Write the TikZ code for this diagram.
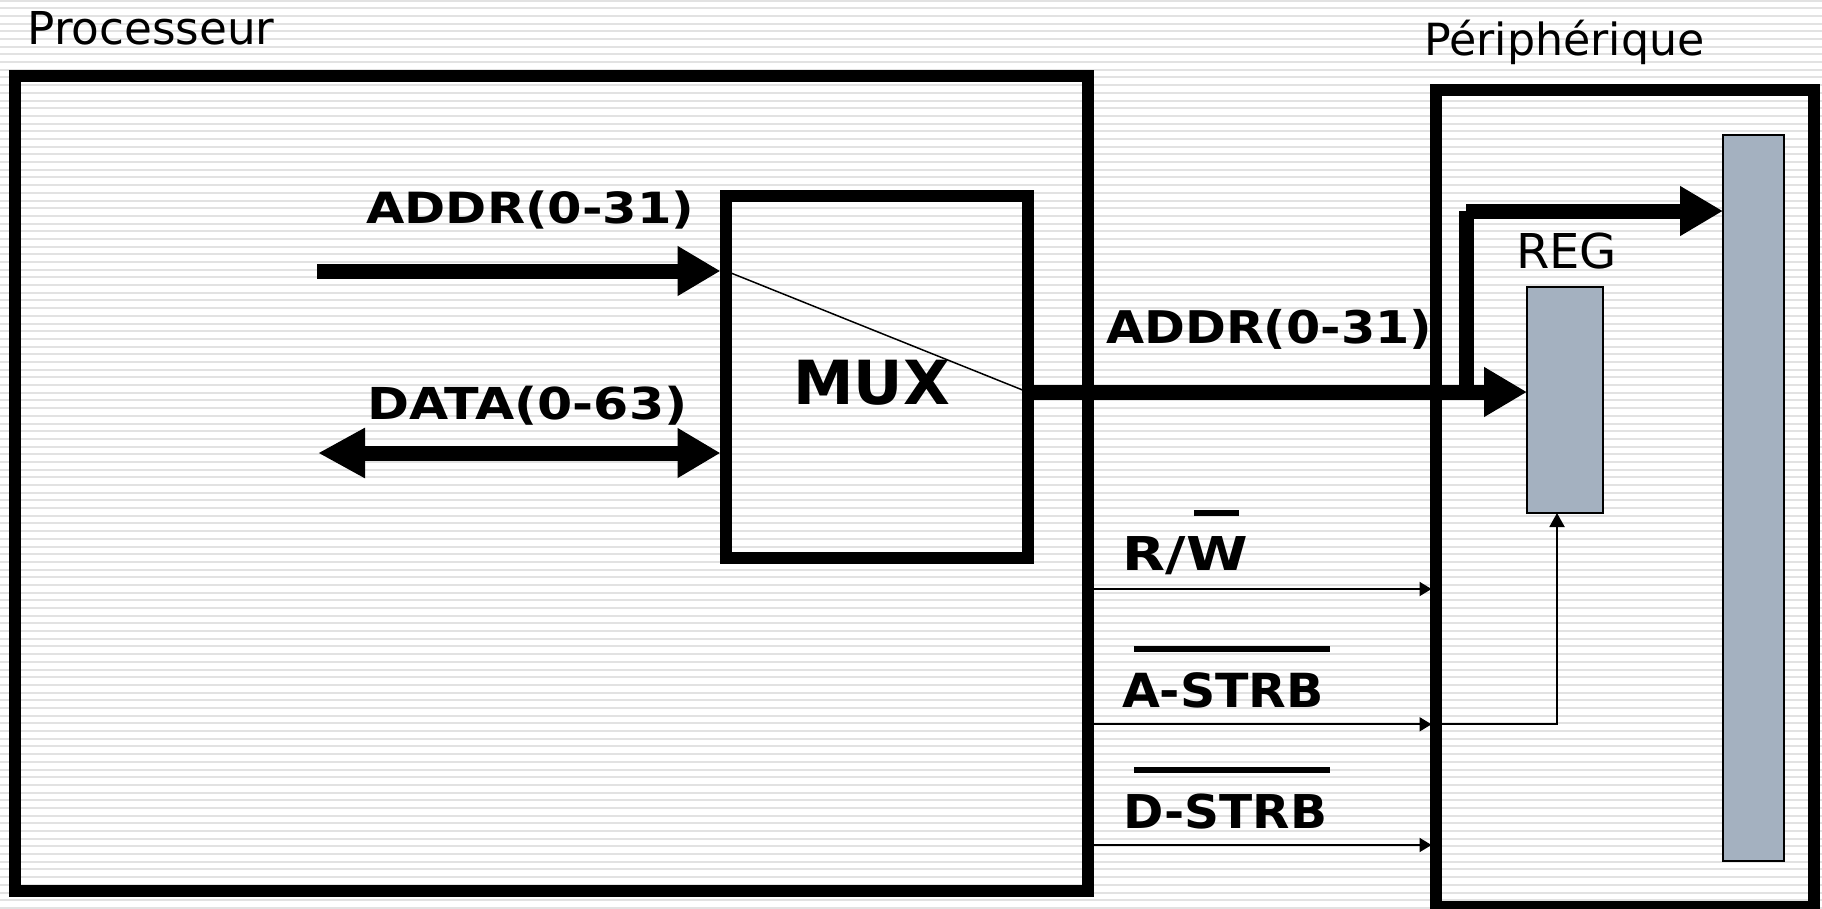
\documentclass[tikz,border=0pt]{standalone}
\usepackage{fontspec}
\setmainfont{DejaVu Sans}
\usetikzlibrary{arrows.meta}
\definecolor{barfill}{RGB}{164,177,192}
\definecolor{stripe}{RGB}{226,226,226}
\begin{document}
\begin{tikzpicture}[x=1pt,y=-1pt,
  box/.style={draw=black, line width=12pt, inner sep=0pt, outer sep=0pt, rectangle},
  grayblk/.style={draw=black, fill=barfill, line width=1.5pt, inner sep=0pt, outer sep=0pt, rectangle},
  bus/.style={line width=15pt, -{Triangle[length=43pt,width=47pt]}},
  busline/.style={line width=15pt},
  sig/.style={line width=2pt, -{Triangle[length=12pt,width=14pt]}},
  lbl/.style={inner sep=0pt, anchor=base, font=\bfseries},
  ttl/.style={inner sep=0pt, anchor=base west},
  ovl/.style={line width=6pt}
]
\useasboundingbox (0,0) rectangle (1822,908);
\fill[white] (0,0) rectangle (1822,908);
\foreach \k in {0,...,118} \draw[stripe, line width=2pt] (0,{0.6+7.689*\k}) -- (1822,{0.6+7.689*\k});

% boxes
\node[box, minimum width=1073pt, minimum height=815.5pt] (proc) at (551.5,483.25) {};
\node[box, minimum width=378pt, minimum height=817pt] (peri) at (1625,498.5) {};
\node[box, minimum width=301.5pt, minimum height=362.5pt] (mux) at (876.75,376.75) {};
\node[grayblk, minimum width=76pt, minimum height=226pt] (reg) at (1565,400) {};
\node[grayblk, minimum width=61pt, minimum height=726pt] (mem) at (1753.5,498) {};

% titles
\node[ttl, font=\fontsize{45.3}{54}\selectfont] (tproc) at (27.3,44) {Processeur};
\node[ttl, font=\fontsize{44.3}{54}\selectfont] (tperi) at (1424,55) {Périphérique};
\node[inner sep=0pt, anchor=base, font=\fontsize{48}{56}\selectfont] (treg) at (1566.5,268) {REG};

% bold labels
\node[lbl] (laddr) at (530.5,223.3) {\fontsize{43}{50}\selectfont\resizebox{328pt}{\height}{ADDR(0-31)}};
\node[lbl] (ldata) at (527.5,419.3) {\fontsize{44}{50}\selectfont\resizebox{320pt}{\height}{DATA(0-63)}};
\node[lbl] (laddr2) at (1269.2,343.3) {\fontsize{45}{50}\selectfont\resizebox{326pt}{\height}{ADDR(0-31)}};
\node[lbl] (lmux) at (871.8,404.3) {\fontsize{60.8}{70}\selectfont MUX};
\node[lbl] (lrw) at (1185.4,570.7) {\fontsize{46.6}{50}\selectfont\resizebox{125pt}{\height}{R/W}};
\node[lbl] (lastrb) at (1223,707.7) {\fontsize{47}{50}\selectfont\resizebox{202pt}{\height}{A-STRB}};
\node[lbl] (ldstrb) at (1225.4,828.3) {\fontsize{46.6}{50}\selectfont\resizebox{204pt}{\height}{D-STRB}};
\draw[ovl, line width=5.5pt] (1194.3,513) -- (1239.3,513);
\draw[ovl, line width=6.5pt] (1134,649) -- (1330,649);
\draw[ovl] (1134,770) -- (1330,770);

% coordinates
\coordinate (ain) at (317,271);
\coordinate (din) at (318,453);
\coordinate (yout) at (0,392);
\coordinate (br) at (1466,392);
\coordinate (bt) at (1466,211);
\coordinate (yrw) at (0,589);
\coordinate (yas) at (0,724.3);
\coordinate (yds) at (0,845);
\coordinate (ac) at (1557,724.3);

% MUX internals
\draw[line width=1.5pt] (ain -| mux.west) -- (mux.east |- yout);

% buses
\draw[bus, shorten >=5.5pt] (ain) -- (ain -| mux.west);
\draw[line width=15pt, {Triangle[length=47pt,width=47pt]}-{Triangle[length=43pt,width=47pt]}, shorten >=5.5pt] (din) -- (din -| mux.west);
\draw[bus] (mux.east |- yout) -- (reg.west |- yout);
\draw[busline] (br) -- (bt);
\draw[bus] (bt) -- (bt -| mem.west);

% control signals
\draw[sig, shorten >=4.5pt] (proc.east |- yrw) -- (peri.west |- yrw);
\draw[sig, shorten >=4.5pt] (proc.east |- yas) -- (peri.west |- yas);
\draw[sig, shorten >=4.5pt] (proc.east |- yds) -- (peri.west |- yds);
\draw[line width=2pt, -{Triangle[length=14pt,width=15pt]}] (peri.west |- yas) -- (ac) -- (ac |- reg.south);
\end{tikzpicture}
\end{document}
